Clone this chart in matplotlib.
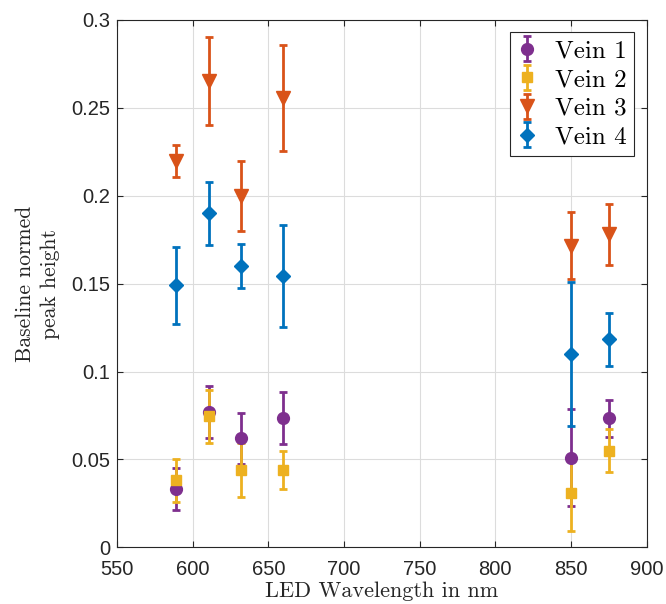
import matplotlib
matplotlib.use('Agg')
import matplotlib.pyplot as plt
from matplotlib.ticker import FormatStrFormatter

# wavelengths of the LEDs (nm)
wavelength = [589, 611, 632, 660, 850, 875]

vein1 = [0.033, 0.077, 0.062, 0.0735, 0.051, 0.0735]
vein1_err = [0.012, 0.015, 0.0145, 0.0147, 0.0275, 0.0105]

vein2 = [0.038, 0.0745, 0.044, 0.044, 0.031, 0.055]
vein2_err = [0.012, 0.015, 0.0155, 0.011, 0.0215, 0.0123]

vein3 = [0.2197, 0.2655, 0.2, 0.2555, 0.1715, 0.178]
vein3_err = [0.009, 0.025, 0.02, 0.03, 0.019, 0.0175]

vein4 = [0.149, 0.19, 0.16, 0.1545, 0.11, 0.1183]
vein4_err = [0.022, 0.018, 0.0125, 0.029, 0.041, 0.015]

labels = ['Vein 1', 'Vein 2', 'Vein 3', 'Vein 4']
colors = ['#7E2F8E', '#EDB120', '#D95319', '#0072BD']
markers = ['o', 's', 'v', 'D']
msizes = [8.5, 7, 10, 7]

serif = 'cmr10'

fig = plt.figure(figsize=(6.66, 6.04), dpi=100)
ax = fig.add_axes([0.1757, 0.0939, 0.971 - 0.1757, 0.9669 - 0.0939])

series = [(vein1, vein1_err), (vein2, vein2_err), (vein3, vein3_err), (vein4, vein4_err)]
for (vals, errs), lab, c, m, ms in zip(series, labels, colors, markers, msizes):
    ax.errorbar(wavelength, vals, yerr=errs, fmt=m, color=c, ms=ms,
                elinewidth=2, capsize=3, capthick=2, label=lab)

ax.set_xlim(550, 900)
ax.set_ylim(0, 0.3)
ax.set_xticks(range(550, 901, 50))
ax.set_yticks([0, 0.05, 0.1, 0.15, 0.2, 0.25, 0.3])
ax.yaxis.set_major_formatter(FormatStrFormatter('%g'))

ax.grid(True, color='#dcdcdc', lw=0.8)
ax.set_axisbelow(True)
ax.tick_params(direction='in', top=True, right=True, length=4, width=0.8,
               labelsize=14.5, colors='#262626')
ax.tick_params(axis='x', pad=9)
ax.tick_params(axis='y', pad=5)
for lbl in ax.get_xticklabels() + ax.get_yticklabels():
    lbl.set_fontfamily('Liberation Sans')
for s in ax.spines.values():
    s.set_color('#262626')
    s.set_linewidth(0.8)

ax.set_xlabel('LED Wavelength in nm', fontsize=16, fontfamily=serif,
              color='#262626', labelpad=2)
ax.set_ylabel('Baseline normed\npeak height', fontsize=15.5, fontfamily=serif,
              color='#262626', labelpad=8, linespacing=1.35)

leg = ax.legend(loc='upper right', prop={'family': serif, 'size': 18},
                fancybox=False, framealpha=1, edgecolor='#262626',
                borderpad=0.3, handletextpad=0.7, labelspacing=0.25,
                borderaxespad=0.5, handlelength=0.8)
leg.get_frame().set_linewidth(0.8)

fig.savefig('out.png', dpi=100)
